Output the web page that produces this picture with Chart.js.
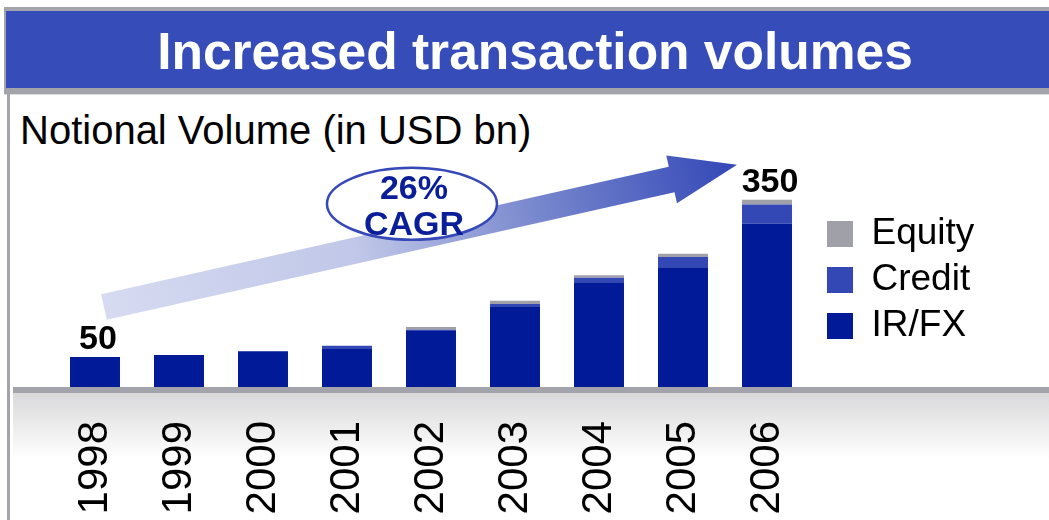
<!DOCTYPE html>
<html><head><meta charset="utf-8">
<script src="https://cdn.jsdelivr.net/npm/chart.js@4.4.1/dist/chart.umd.min.js"></script>
<style>
html,body{margin:0;padding:0;background:#fff;width:1049px;height:520px;overflow:hidden;font-family:"Liberation Sans",Arial,sans-serif;}
.abs{position:absolute;}
#topline{left:4px;top:7px;width:1045px;height:4px;background:#a3a3ab;}
#header{left:4px;top:11px;width:1045px;height:77px;background:#364cb8;border-left:2px solid #a3a3ab;box-sizing:border-box;}
#headline{left:4px;top:88px;width:1045px;height:6px;background:#a3a3ab;}
#headline2{left:4px;top:94px;width:1045px;height:1px;background:#dcdce0;}
#leftline{left:7px;top:94px;width:3px;height:426px;background:#a3a3ab;}
#title{left:0;top:25px;width:1070px;text-align:center;color:#fff;font:bold 51.5px/52px "Liberation Sans",Arial,sans-serif;white-space:nowrap;}
#subtitle{left:20px;top:110px;color:#000;font:40px/40px "Liberation Sans",Arial,sans-serif;white-space:nowrap;}
#wrap{left:0;top:0;width:1049px;height:520px;}
</style>
</head>
<body>
<div class="abs" id="topline"></div>
<div class="abs" id="header"></div>
<div class="abs" id="headline"></div>
<div class="abs" id="headline2"></div>
<div class="abs" id="leftline"></div>
<div class="abs" id="title">Increased transaction volumes</div>
<div class="abs" id="subtitle">Notional Volume (in USD bn)</div>
<div class="abs" id="wrap"><canvas id="c" width="1049" height="520"></canvas></div>
<script>
const categories = ['1998','1999','2000','2001','2002','2003','2004','2005','2006'];
const irfx   = [56, 60, 67, 71, 106, 151, 196, 224, 305];
const credit = [0, 0, 0, 6, 1, 4, 8, 19, 36];
const equity = [0, 0, 0, 0, 5, 6, 5, 6, 9];
const valueLabels = ['50','','','','','','','','350'];
const seriesNames = ['IR/FX','Credit','Equity'];
const cagrLines = ['26%','CAGR'];
const yMax = 400;

const FONT = '"Liberation Sans", Arial, sans-serif';
const colors = {irfx:'#001a98', credit:'#3448b5', equity:'#a0a0a8'};

const decorPlugin = {
  id:'decor',
  beforeDraw(chart){
    const {ctx, chartArea} = chart;
    const b = chartArea.bottom;
    ctx.save();
    const g = ctx.createLinearGradient(0, b+6, 0, b+72);
    g.addColorStop(0,'#d9d9db'); g.addColorStop(1,'#ffffff');
    ctx.fillStyle = g;
    ctx.fillRect(13, b+6, chart.width-13, 70);
    ctx.fillStyle = '#a3a3ab';
    ctx.fillRect(13, b, chart.width-13, 6);
    ctx.restore();
  },
  afterDatasetsDraw(chart){
    const {ctx} = chart;
    const xs = chart.scales.x, ys = chart.scales.y;
    const total = i => irfx[i]+credit[i]+equity[i];
    const last = categories.length-1;
    // growth arrow from first bar to last bar
    const tail = {x: xs.getPixelForValue(0)+9, y: ys.getPixelForValue(total(0))-50};
    const tip = {x: xs.getPixelForValue(last)-30, y: ys.getPixelForValue(total(last))-35};
    const dx = tip.x-tail.x, dy = tip.y-tail.y, len = Math.hypot(dx,dy);
    const u = {x:dx/len, y:dy/len}, n = {x:-u.y, y:u.x};
    const hl = 67, sw = 13, hw = 24.5;
    const hb = {x: tip.x-u.x*hl, y: tip.y-u.y*hl};
    const P = (p,k)=>[p.x+n.x*k, p.y+n.y*k];
    const pts = [P(tail,sw),P(hb,sw),P(hb,hw),[tip.x,tip.y],P(hb,-hw),P(hb,-sw),P(tail,-sw)];
    ctx.save();
    const g = ctx.createLinearGradient(tail.x, tail.y, tip.x, tip.y);
    g.addColorStop(0,'#d6dbf1'); g.addColorStop(0.4,'#c0c7e8');
    g.addColorStop(0.7,'#7484cc'); g.addColorStop(1,'#3347b7');
    ctx.fillStyle = g;
    ctx.beginPath(); ctx.moveTo(pts[0][0],pts[0][1]);
    for (let i=1;i<pts.length;i++) ctx.lineTo(pts[i][0],pts[i][1]);
    ctx.closePath(); ctx.fill();
    // CAGR ellipse
    const t = 0.4865;
    const ex = tail.x+dx*t, ey = tail.y+dy*t-34;
    ctx.beginPath(); ctx.ellipse(ex, ey, 85, 36, 0, 0, Math.PI*2);
    ctx.fillStyle='#fff'; ctx.fill();
    ctx.lineWidth=2.5; ctx.strokeStyle='#3548b8'; ctx.stroke();
    ctx.fillStyle='#0a1e9a'; ctx.font='bold 34px '+FONT; ctx.textAlign='center'; ctx.textBaseline='alphabetic';
    ctx.fillText(cagrLines[0], ex+2, ey-5);
    ctx.fillText(cagrLines[1], ex+2, ey+31);
    // value labels
    ctx.fillStyle='#000'; ctx.font='bold 34px '+FONT;
    valueLabels.forEach((s,i)=>{
      if(!s) return;
      ctx.fillText(s, xs.getPixelForValue(i)+3, ys.getPixelForValue(total(i))-8);
    });
    ctx.restore();
  }
};

const ds = (label, data, color) => ({label, data, backgroundColor:color, borderWidth:0,
  barPercentage:1, categoryPercentage:0.595});

const chart = new Chart(document.getElementById('c'), {
  type:'bar',
  data:{labels:categories, datasets:[
    ds(seriesNames[0], irfx, colors.irfx),
    ds(seriesNames[1], credit, colors.credit),
    ds(seriesNames[2], equity, colors.equity)
  ]},
  options:{
    responsive:false, animation:false, events:[],
    layout:{padding:{left:53, right:0, top:173, bottom:0}},
    plugins:{
      legend:{position:'right', fullSize:false, align:'center', reverse:true,
        labels:{boxWidth:26, boxHeight:26, padding:9, color:'#000', font:{family:FONT, size:37}}},
      tooltip:{enabled:false}, title:{display:false}
    },
    scales:{
      x:{stacked:true, offset:true, grid:{display:false, drawTicks:false}, border:{display:false},
         ticks:{minRotation:90, maxRotation:90, autoSkip:false, padding:34, color:'#000', font:{family:FONT, size:42}},
         afterFit:s=>{s.height=133;}},
      y:{stacked:true, display:false, min:0, max:yMax},
      yRight:{axis:'y', type:'linear', position:'right', display:true, grid:{display:false, drawTicks:false},
         border:{display:false}, ticks:{display:false}, afterFit:s=>{s.width=9;}}
    }
  },
  plugins:[decorPlugin]
});
const lw = chart.legend.width;
chart.options.layout.padding.right = Math.max(0, 1049-818-lw);
chart.update('none');
</script>
</body></html>
